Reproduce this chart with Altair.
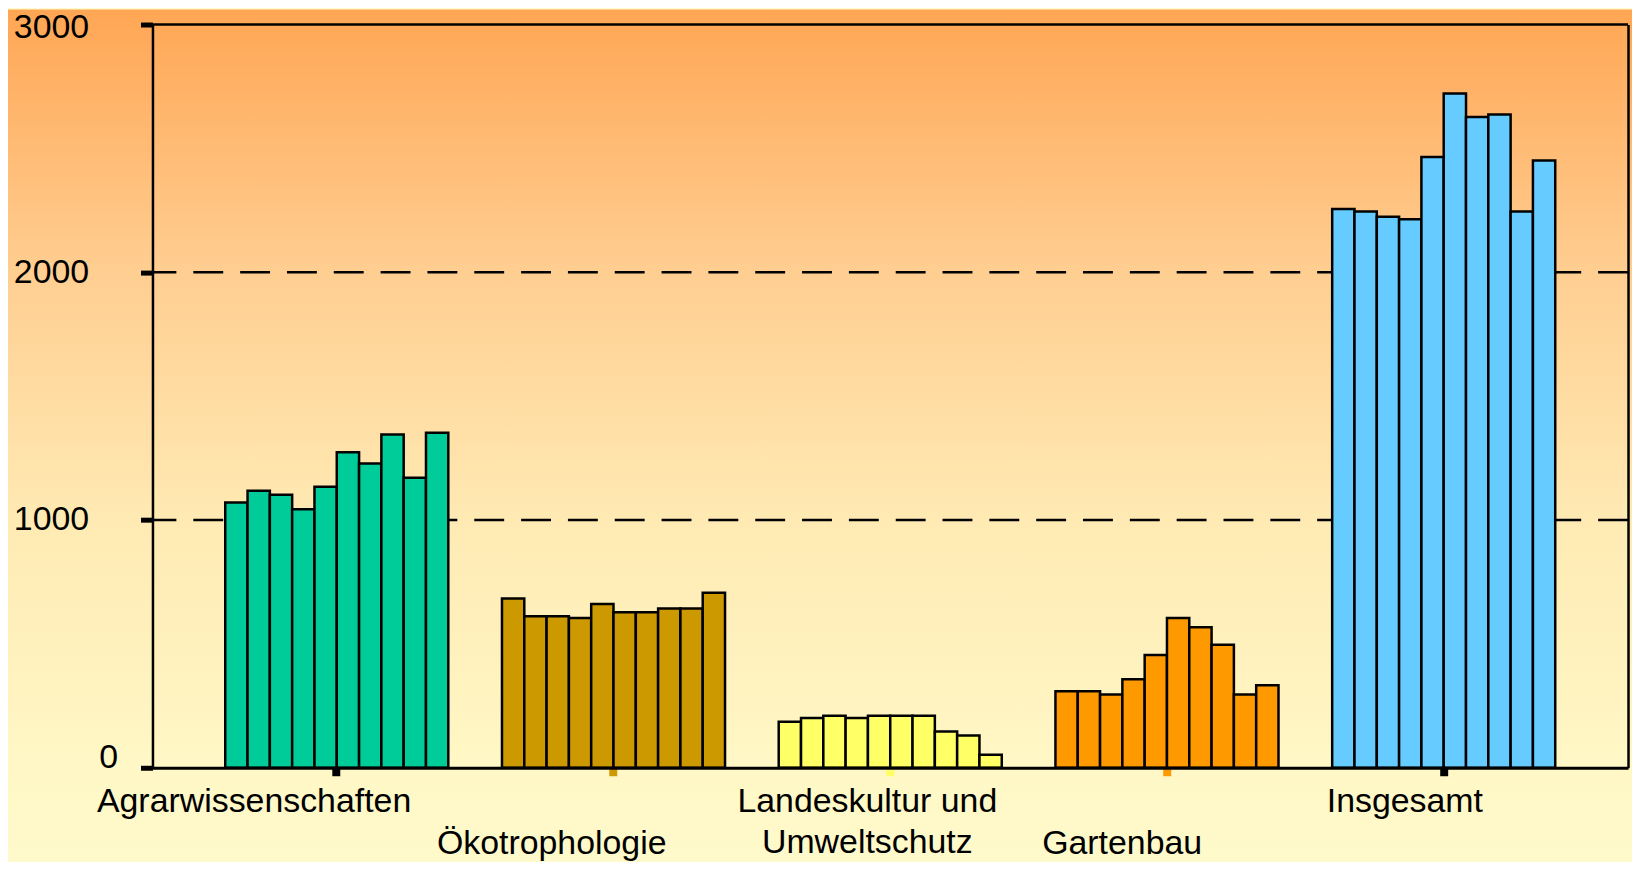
import altair as alt
import pandas as pd

# ---------------- data ----------------
categories = ["Agrarwissenschaften", "Ökotrophologie", "Landeskultur und Umweltschutz", "Gartenbau", "Insgesamt"]
tick_labels = ["Agrarwissenschaften", "Ökotrophologie", "Landeskultur und\nUmweltschutz", "Gartenbau", "Insgesamt"]
years = ["Jahr 1", "Jahr 2", "Jahr 3", "Jahr 4", "Jahr 5", "Jahr 6", "Jahr 7", "Jahr 8", "Jahr 9", "Jahr 10"]

agrar = [1071, 1118, 1102, 1043, 1134, 1274, 1228, 1345, 1171, 1352]
oeko = [683, 612, 612, 605, 661, 628, 628, 643, 643, 706]
landes = [186, 201, 210, 201, 210, 210, 210, 146, 130, 53]
garten = [309, 309, 296, 357, 455, 605, 567, 497, 296, 333]
insgesamt = [2255, 2245, 2224, 2214, 2465, 2722, 2627, 2637, 2245, 2451]

y_ticks = [0, 1000, 2000, 3000]
grid_dashed = [1000, 2000]
grid_top = [3000]

# ---------------- styles ----------------
bar_colors = ["#00CC99", "#CC9900", "#FFFF66", "#FF9900", "#66CCFF"]
tick_colors = ["black", "#CC9900", "#FFFF66", "#FF9900", "black"]
label_dx = [-83, -62, -23, -45, -39]
label_y = [790, 833, 790, 833, 790]
FONT = "Liberation Sans"
FS = 34
W, H = 1481, 746
PAD = {"left": 145, "top": 15, "right": 4, "bottom": 93}

rows = []
for cat, vals in zip(categories, [agrar, oeko, landes, garten, insgesamt]):
    for yr, v in zip(years, vals):
        rows.append({"Fach": cat, "Jahr": yr, "Studierende": v})
df = pd.DataFrame(rows)

x_scale = alt.Scale(domain=categories, paddingInner=0.194, paddingOuter=0.263)
y_scale = alt.Scale(domain=[0, 3000], nice=False)

gradient = alt.LinearGradient(
    gradient="linear",
    stops=[
        alt.GradientStop(color="#FFA654", offset=0),
        alt.GradientStop(color="#FFCD90", offset=0.3),
        alt.GradientStop(color="#FFEAB3", offset=0.6),
        alt.GradientStop(color="#FFF7C5", offset=0.88),
        alt.GradientStop(color="#FFFACB", offset=1),
    ],
    x1=0, x2=0, y1=0, y2=1,
)

bg = alt.Chart(pd.DataFrame({"bg": [0]})).mark_rect(color=gradient, strokeWidth=0).encode(
    x=alt.value(-PAD["left"]), x2=alt.value(W + PAD["right"]),
    y=alt.value(-PAD["top"]), y2=alt.value(H + PAD["bottom"]),
)

grid = alt.Chart(pd.DataFrame({"v": grid_dashed})).mark_rule(
    stroke="black", strokeWidth=2.5, strokeDash=[30, 17]
).encode(y=alt.Y("v:Q", scale=y_scale, axis=None))

top = alt.Chart(pd.DataFrame({"v": grid_top})).mark_rule(
    stroke="black", strokeWidth=2.5
).encode(
    y=alt.Y("v:Q", scale=y_scale,
            axis=alt.Axis(orient="right", labels=False, ticks=False, domain=True,
                          domainColor="black", domainWidth=2.5, title=None, grid=False, zindex=1))
)

tick_cond = [{"test": f"datum.value === '{c}'", "value": col}
             for c, col in zip(categories, tick_colors) if col != "black"]

bars = alt.Chart(df).mark_bar(stroke="black", strokeWidth=2.5).encode(
    x=alt.X("Fach:N", scale=x_scale,
            axis=alt.Axis(labels=False, ticks=True, tickSize=8, tickWidth=8,
                          tickColor={"condition": tick_cond, "value": "black"},
                          domainColor="black", domainWidth=3, title=None, grid=False, zindex=1)),
    xOffset=alt.XOffset("Jahr:N", sort=years, scale=alt.Scale(paddingInner=0, paddingOuter=0)),
    y=alt.Y("Studierende:Q", scale=y_scale,
            axis=alt.Axis(orient="left", values=y_ticks, format="d", title=None, grid=False, zindex=1,
                          labelFont=FONT, labelFontSize=FS, labelColor="black",
                          labelPadding={"condition": {"test": "datum.value == 0", "value": 23}, "value": 52},
                          labelBaseline={"condition": {"test": "datum.value == 0", "value": "alphabetic"}, "value": "middle"},
                          labelOffset={"condition": {"test": "datum.value == 3000", "value": 3}, "value": 0},
                          tickSize=12, tickWidth=5, tickColor="black",
                          domainColor="black", domainWidth=2.5)),
    color=alt.Color("Fach:N", scale=alt.Scale(domain=categories, range=bar_colors), legend=None),
)

texts = []
for cat, lab, dx, yb in zip(categories, tick_labels, label_dx, label_y):
    texts.append(
        alt.Chart(pd.DataFrame({"Fach": [cat], "label": [lab]})).mark_text(
            font=FONT, fontSize=FS, color="black", align="center", baseline="alphabetic",
            lineBreak="\n", lineHeight=42, dx=dx, y=yb,
        ).encode(x=alt.X("Fach:N", scale=x_scale), text="label:N")
    )

chart = alt.layer(bg, grid, top, bars, *texts).resolve_axis(y="independent").properties(
    width=W, height=H, padding=PAD,
    autosize=alt.AutoSizeParams(type="none"),
    background="#FFFACB",
).configure_view(stroke=None)

chart.save("out.html", embed_options={"renderer": "svg", "actions": False})
